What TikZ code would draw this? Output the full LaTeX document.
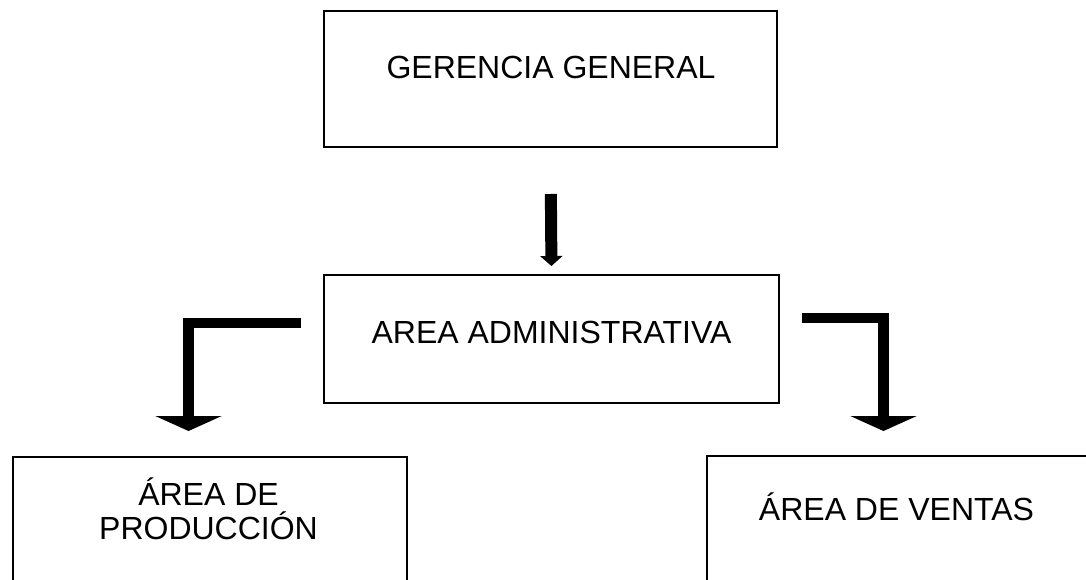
\documentclass[tikz,border=0pt]{standalone}
\usepackage{fontspec}
\setmainfont{Liberation Sans}
\usetikzlibrary{arrows.meta}
\begin{document}
\begin{tikzpicture}[x=1pt,y=1pt,
  box/.style={draw=black,line width=2pt,minimum width=#1,inner sep=0pt},
  lbl/.style={font=\fontsize{32}{34}\selectfont,inner sep=0pt,align=center},
  thin arrow/.style={line width=12pt,-{Triangle[width=22pt,length=10pt]}},
  elbow/.style={line width=10.5pt,line join=miter,-{Triangle[width=66pt,length=15pt]}}]
\useasboundingbox (0,0) rectangle (1086,579);
\clip (0,0) rectangle (1086,579);
\fill[white] (0,0) rectangle (1086,579);
% boxes
\node[box=453pt,minimum height=136pt] (gg) at (550.5,500) {};
\node[box=455pt,minimum height=128pt] (adm) at (551.5,240) {};
\node[box=394pt,minimum height=162pt] (prod) at (210,41) {};
\node[box=413pt,minimum height=163pt] (ven) at (913.5,41.5) {};
% texts
\node[lbl,anchor=base] (tgg) at (551,500) {GERENCIA GENERAL};
\node[lbl,anchor=base] (tadm) at (551.5,236) {AREA ADMINISTRATIVA};
\node[lbl,anchor=base] (tprod) at (208.5,40) {ÁREA DE\\PRODUCCIÓN};
\node[lbl,anchor=base] (tven) at (896.5,59) {ÁREA DE VENTAS};
% connectors
\draw[thin arrow,shorten <=46pt,shorten >=8pt] (gg.south) -- (adm.north);
\coordinate (lstart) at ([xshift=-22pt,yshift=16pt]adm.west);
\coordinate (ltip) at ([xshift=-21.5pt,yshift=25pt]prod.north);
\draw[elbow] (lstart) -| (ltip);
\coordinate (rstart) at ([xshift=22pt,yshift=21pt]adm.east);
\coordinate (rtip) at ([xshift=-30pt,yshift=24pt]ven.north);
\draw[elbow] (rstart) -| (rtip);
\end{tikzpicture}
\end{document}
